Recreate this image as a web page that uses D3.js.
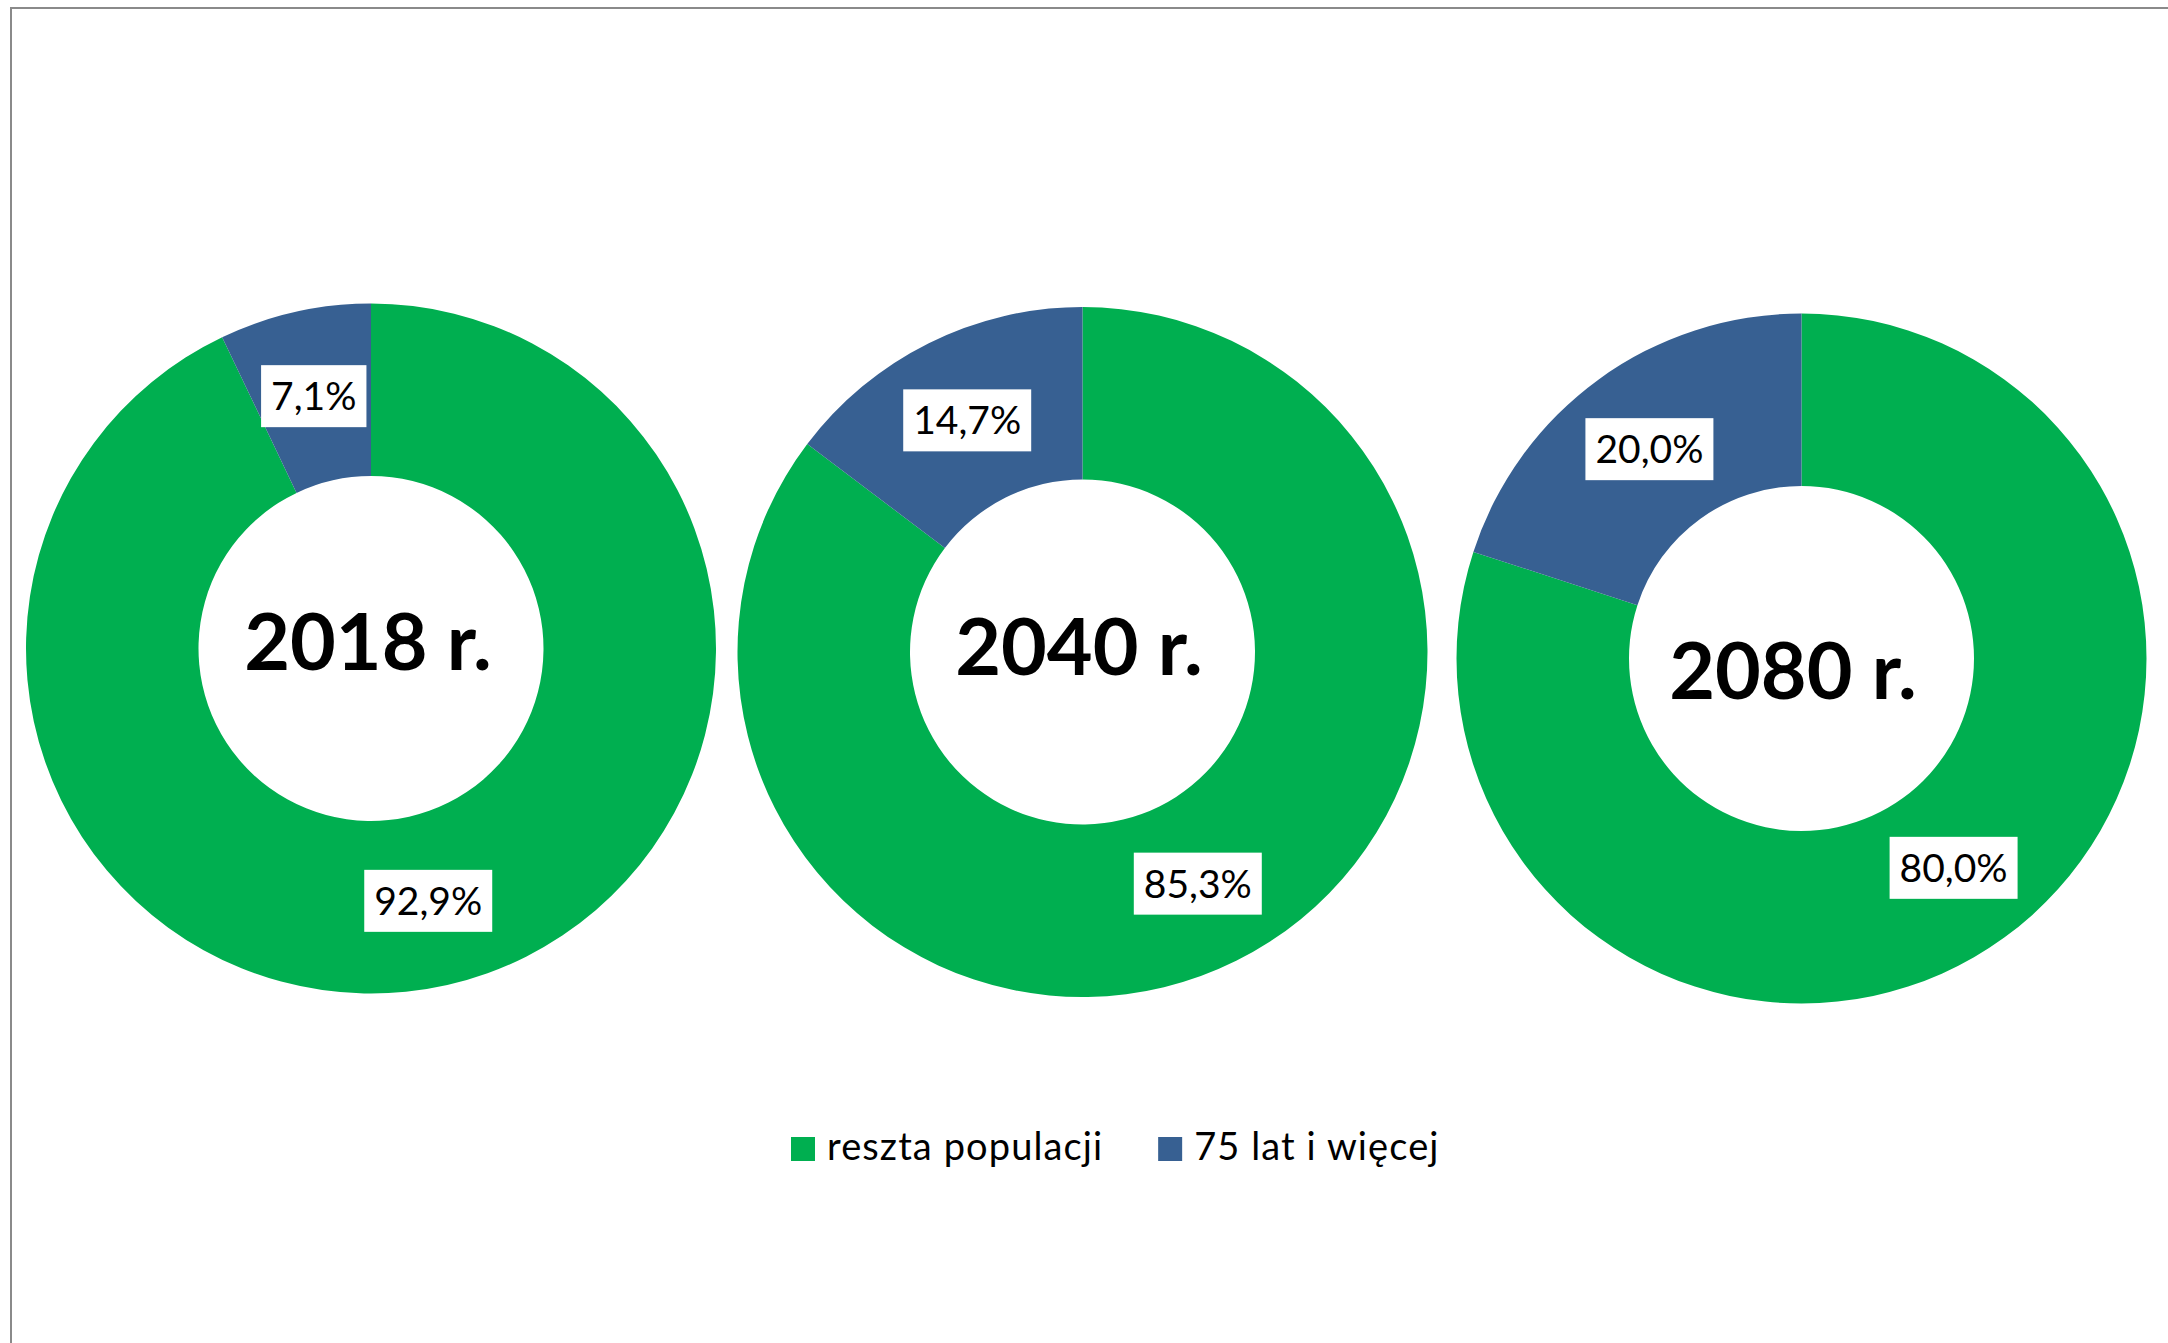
<!DOCTYPE html>
<html>
<head>
<meta charset="utf-8">
<script src="https://cdn.jsdelivr.net/npm/d3@7"></script>
<style>
  html, body { margin: 0; padding: 0; background: #fff; }
  svg { display: block; }
</style>
</head>
<body>
<svg id="chart" width="2168" height="1343"></svg>
<script>
// ---- data ----
const years = ["2018 r.", "2040 r.", "2080 r."];
const seriesNames = ["reszta populacji", "75 lat i więcej"];
const restValues = [92.9, 85.3, 80.0];
const elderlyValues = [7.1, 14.7, 20.0];

// ---- layout / style ----
const colors = ["#00AF50", "#376092"];
const centers = [[371, 648.5], [1082.5, 652], [1801.5, 658.5]];
const titleOffsets = [[-3, 21], [-3.5, 23], [-8.5, 40.5]];
const outerR = 345, innerR = 172.5;
const fontFamily = "Lato, 'Open Sans', sans-serif";

const svg = d3.select("#chart");
svg.append("rect").attr("width", 2168).attr("height", 1343).attr("fill", "#fff");

// frame (top + left edges visible)
svg.append("path")
  .attr("d", "M11,1343 V8 H2168")
  .attr("fill", "none")
  .attr("stroke", "#8a8a8a")
  .attr("stroke-width", 2);

const locale = d3.formatLocale({decimal: ",", thousands: " ", grouping: [3], currency: ["", " zł"]});
const fmt = v => locale.format(".1f")(v) + "%";

const pie = d3.pie().sort(null).value(d => d.value);
const arc = d3.arc().innerRadius(innerR).outerRadius(outerR);

years.forEach((yr, i) => {
  const data = [
    {name: seriesNames[0], value: restValues[i], color: colors[0]},
    {name: seriesNames[1], value: elderlyValues[i], color: colors[1]}
  ];
  const g = svg.append("g").attr("transform", `translate(${centers[i][0]},${centers[i][1]})`);
  const arcs = pie(data);
  g.selectAll("path.slice").data(arcs).enter().append("path")
    .attr("class", "slice")
    .attr("d", arc)
    .attr("fill", d => d.data.color);

  // data labels with white boxes at arc centroids
  arcs.forEach(a => {
    const [cx, cy] = arc.centroid(a);
    const lg = g.append("g").attr("transform", `translate(${cx},${cy})`);
    const rect = lg.append("rect").attr("fill", "#fff");
    const t = lg.append("text")
      .attr("text-anchor", "middle")
      .attr("dy", "0.36em")
      .attr("font-family", fontFamily)
      .attr("font-size", 39)
      .attr("fill", "#000")
      .text(fmt(a.data.value));
    const w = t.node().getComputedTextLength();
    rect.attr("x", -w / 2 - 10).attr("y", -31).attr("width", w + 20).attr("height", 62);
  });

  // center title
  g.append("text")
    .attr("x", titleOffsets[i][0])
    .attr("y", titleOffsets[i][1])
    .attr("text-anchor", "middle")
    .attr("font-family", fontFamily)
    .attr("font-weight", "bold")
    .attr("font-size", 79)
    .attr("fill", "#000")
    .text(yr);
});

// legend
const legend = svg.append("g");
let lx = 791;
seriesNames.forEach((name, i) => {
  legend.append("rect")
    .attr("x", lx).attr("y", 1137)
    .attr("width", 24).attr("height", 24)
    .attr("fill", colors[i]);
  const t = legend.append("text")
    .attr("x", lx + 36).attr("y", 1160)
    .attr("font-family", fontFamily)
    .attr("font-size", 38)
    .attr("letter-spacing", 1.1)
    .attr("fill", "#000")
    .text(name);
  lx = lx + 36 + t.node().getComputedTextLength() + 55;
});
</script>
</body>
</html>
